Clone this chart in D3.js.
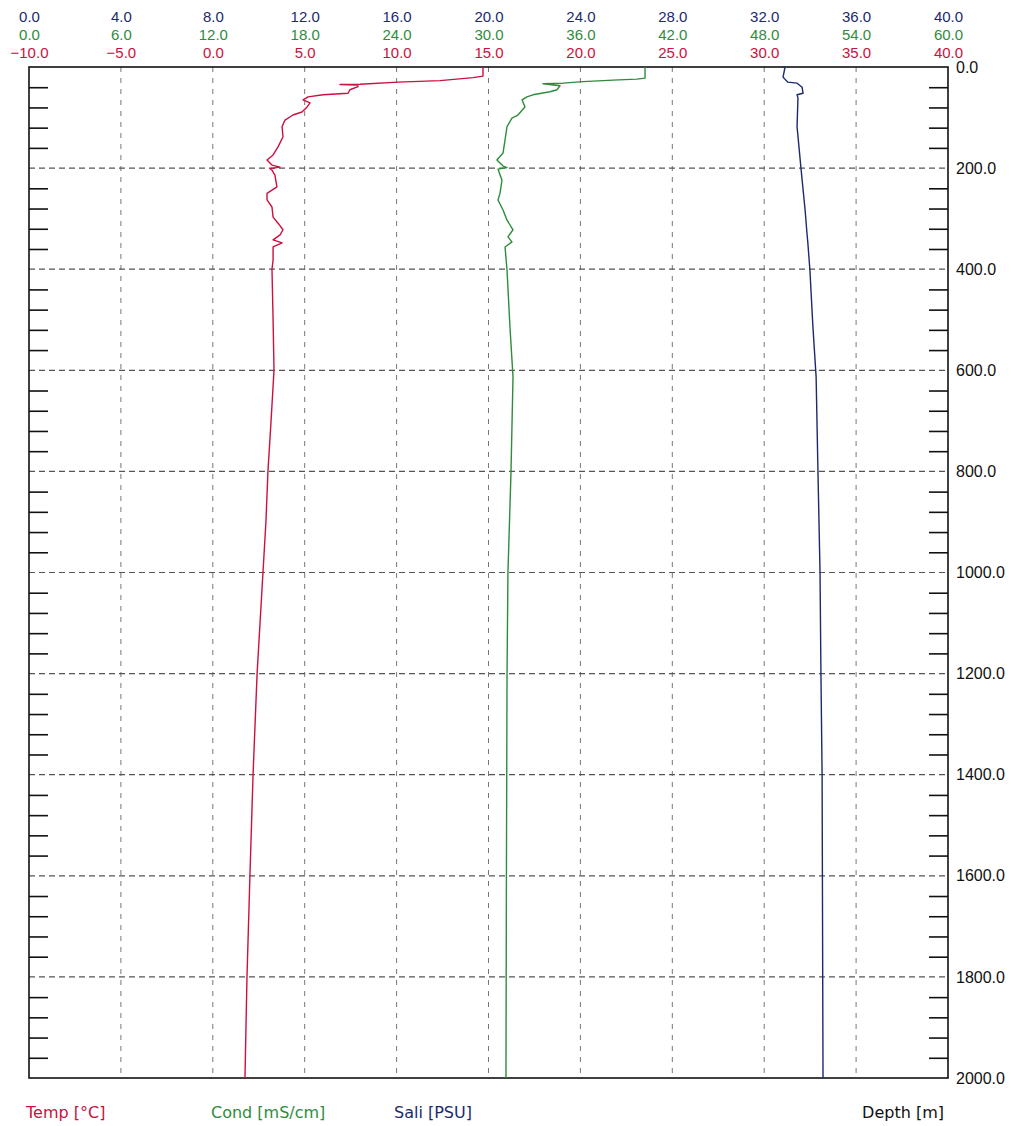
<!DOCTYPE html>
<html>
<head>
<meta charset="utf-8">
<script src="https://cdn.jsdelivr.net/npm/d3@7"></script>
<style>
  body { margin: 0; background: #fff; }
  svg text { font-family: "Liberation Sans", Arial, sans-serif; font-size: 14px; }
</style>
</head>
<body>
<svg id="ctd"></svg>
<script>
// tick labels of the three top axes and the depth axis
const saliTicks = [0, 4, 8, 12, 16, 20, 24, 28, 32, 36, 40];
const condTicks = [0, 6, 12, 18, 24, 30, 36, 42, 48, 54, 60];
const tempTicks = [-10, -5, 0, 5, 10, 15, 20, 25, 30, 35, 40];
const depthTicks = [0, 200, 400, 600, 800, 1000, 1200, 1400, 1600, 1800, 2000];

// Temp [°C] profile
const tempDepth = [
  0, 18, 21, 27, 30, 34, 34.5, 36, 39, 45,
  52, 55, 59, 65, 71, 79, 89, 95, 105, 118,
  138, 158, 174, 184, 194, 198, 201, 204, 214, 237,
  250, 263, 277, 297, 309, 322, 332, 342, 348, 356,
  382, 400, 500, 600, 700, 800, 900, 1000, 1100, 1200,
  1400, 1600, 1800, 2000];
const tempVal = [
  14.70, 14.70, 14.16, 12.36, 10.08, 8.01, 6.92, 7.90, 7.90, 7.46,
  7.36, 6.00, 5.18, 4.91, 5.29, 5.13, 4.85, 4.36, 3.93, 3.77,
  3.82, 3.55, 3.28, 2.95, 3.22, 3.66, 3.11, 3.22, 3.38, 3.49,
  2.95, 2.95, 3.22, 3.28, 3.55, 3.82, 3.66, 3.28, 3.77, 3.28,
  3.28, 3.22, 3.28, 3.33, 3.17, 3.00, 2.89, 2.73, 2.57, 2.41,
  2.19, 2.02, 1.86, 1.75];

// Cond [mS/cm] profile
const condDepth = [
  0, 22, 24, 26, 29, 32, 33, 37, 45, 49,
  55, 59, 65, 79, 95, 101, 118, 144, 170, 184,
  196, 199, 202, 224, 250, 263, 283, 303, 322, 336,
  346, 356, 402, 514, 613, 800, 1000, 1200, 1600, 2000];
const condVal = [
  40.22, 40.22, 39.69, 38.13, 36.17, 34.86, 33.56, 34.67, 34.47, 34.01,
  32.90, 32.51, 32.19, 32.38, 31.92, 31.53, 31.21, 31.08, 30.95, 30.55,
  30.95, 31.21, 30.62, 30.88, 30.75, 30.62, 30.95, 31.21, 31.60, 31.27,
  31.53, 31.08, 31.21, 31.40, 31.60, 31.47, 31.27, 31.21, 31.17, 31.14];

// Sali [PSU] profile
const saliDepth = [
  0, 2, 20, 30, 32, 40, 52, 55, 61, 118,
  200, 283, 328, 348, 402, 514, 613, 800, 1000, 1200,
  1400, 2000];
const saliVal = [
  32.82, 32.90, 32.82, 33.03, 33.43, 33.65, 33.69, 33.43, 33.47, 33.43,
  33.60, 33.78, 33.86, 33.90, 33.99, 34.12, 34.26, 34.34, 34.43, 34.47,
  34.52, 34.56];

width = 1011
height = 1126
x0 = 29   // plot left
x1 = 948  // plot right
y0 = 67   // plot top
y1 = 1078 // plot bottom

const red = '#cc1040';
const green = '#2e8c3c';
const navy = '#1c2a6c';

const svg = d3.select('#ctd')
  .attr('width', width)
  .attr('height', height)
  .attr('viewBox', [0, 0, width, height]);

const xSali = d3.scaleLinear().domain([0, 40]).range([x0, x1]);
const xCond = d3.scaleLinear().domain([0, 60]).range([x0, x1]);
const xTemp = d3.scaleLinear().domain([-10, 40]).range([x0, x1]);
const yDepth = d3.scaleLinear().domain([0, 2000]).range([y0, y1]);

const f1 = d3.format('.1f');

// vertical dashed grid (on salinity ticks)
svg.append('g').selectAll('line')
  .data(saliTicks.slice(1, -1))
  .enter().append('line')
  .attr('x1', d => xSali(d)).attr('x2', d => xSali(d))
  .attr('y1', y0).attr('y2', y1)
  .attr('stroke', '#777')
  .attr('stroke-width', 1)
  .attr('stroke-dasharray', '5,6');

// horizontal dashed grid
svg.append('g').selectAll('line')
  .data(depthTicks.slice(1, -1))
  .enter().append('line')
  .attr('x1', x0).attr('x2', x1)
  .attr('y1', d => yDepth(d)).attr('y2', d => yDepth(d))
  .attr('stroke', '#555')
  .attr('stroke-width', 1.2)
  .attr('stroke-dasharray', '6,4');

// minor depth ticks every 40 m, inside both borders
const minorTicks = d3.range(40, 2000, 40).filter(d => d % 200 != 0);
svg.append('g')
  .attr('transform', `translate(${x0},0)`)
  .call(d3.axisRight(yDepth).tickValues(minorTicks).tickSize(19).tickFormat(''))
  .call(g => g.select('.domain').remove())
  .selectAll('line').attr('stroke', '#111').attr('stroke-width', 1.6);
svg.append('g')
  .attr('transform', `translate(${x1},0)`)
  .call(d3.axisLeft(yDepth).tickValues(minorTicks).tickSize(19).tickFormat(''))
  .call(g => g.select('.domain').remove())
  .selectAll('line').attr('stroke', '#111').attr('stroke-width', 1.6);

// plot frame
svg.append('rect')
  .attr('x', x0).attr('y', y0)
  .attr('width', x1 - x0).attr('height', y1 - y0)
  .attr('fill', 'none')
  .attr('stroke', '#111')
  .attr('stroke-width', 1.6);

// top axes: three rows of labels
function topLabels(scale, ticks, yPos, color) {
  svg.append('g')
    .attr('transform', `translate(0,${yPos})`)
    .call(d3.axisTop(scale).tickValues(ticks).tickSize(0).tickPadding(0).tickFormat(f1))
    .call(g => g.select('.domain').remove())
    .selectAll('text')
    .attr('y', 0)
    .attr('dy', 0)
    .attr('fill', color)
    .style('font-size', '15px')
    .style('font-family', '"Liberation Sans", Arial, sans-serif');
}
topLabels(xSali, saliTicks, 22, navy);
topLabels(xCond, condTicks, 40, green);
topLabels(xTemp, tempTicks, 58, red);

// depth labels on the right
svg.append('g')
  .attr('transform', `translate(${x1 + 8},0)`)
  .call(d3.axisRight(yDepth).tickValues(depthTicks).tickSize(0).tickPadding(0).tickFormat(f1))
  .call(g => g.select('.domain').remove())
  .selectAll('text')
  .attr('fill', '#111')
  .attr('text-anchor', 'start')
  .style('font-size', '16px')
  .style('font-family', '"Liberation Sans", Arial, sans-serif');

// profiles
function makeProfile(depths, values, xScale, color) {
  const line = d3.line()
    .x((d, i) => xScale(values[i]))
    .y((d, i) => yDepth(depths[i]));
  svg.append('path')
    .datum(depths)
    .attr('d', line)
    .attr('fill', 'none')
    .attr('stroke', color)
    .attr('stroke-width', 1.4)
    .attr('stroke-linejoin', 'round');
}
makeProfile(tempDepth, tempVal, xTemp, red);
makeProfile(condDepth, condVal, xCond, green);
makeProfile(saliDepth, saliVal, xSali, navy);

// bottom legend texts
const legendNames = ['Temp [°C]', 'Cond [mS/cm]', 'Sali [PSU]'];
const legendColors = [red, green, navy];
const legendX = [26, 211, 394];
svg.append('g').selectAll('text')
  .data(legendNames)
  .enter().append('text')
  .text(d => d)
  .attr('x', (d, i) => legendX[i])
  .attr('y', 1118)
  .attr('fill', (d, i) => legendColors[i])
  .style('font-family', '"DejaVu Sans", sans-serif')
  .style('font-size', '16px');

svg.append('text')
  .text('Depth [m]')
  .attr('x', 944)
  .attr('y', 1118)
  .style('text-anchor', 'end')
  .style('font-family', '"DejaVu Sans", sans-serif')
  .style('font-size', '16px')
  .attr('fill', '#111');
</script>
</body>
</html>
